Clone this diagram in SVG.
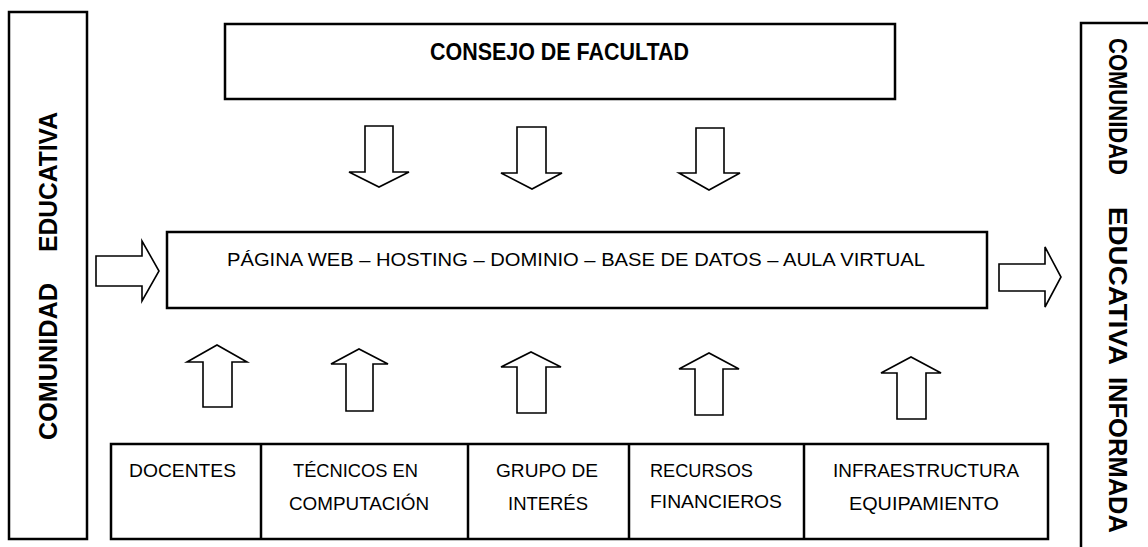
<svg xmlns="http://www.w3.org/2000/svg" width="1148" height="547" viewBox="0 0 1148 547">
<style>
.box{fill:#fff;stroke:#000;stroke-width:2.5}
.div{stroke:#000;stroke-width:2.5}
.arr{fill:#fff;stroke:#000;stroke-width:1.6;stroke-linejoin:miter}
.t{font-family:"Liberation Sans",Arial,sans-serif;font-size:19px;fill:#000}
.b{font-family:"Liberation Sans",Arial,sans-serif;font-weight:bold;fill:#000}
</style>
<rect width="1148" height="547" fill="#fff"/>
<g id="comunidad-educativa">
<rect class="box" x="9" y="12" width="78" height="527"/>
<text class="b" font-size="25" transform="translate(57,0) rotate(-90)"><tspan x="-440" textLength="157" lengthAdjust="spacingAndGlyphs">COMUNIDAD</tspan><tspan x="-252" textLength="140" lengthAdjust="spacingAndGlyphs">EDUCATIVA</tspan></text>
</g>
<g id="comunidad-informada">
<path class="box" d="M1081,547 V23 H1150" fill="none"/>
<text class="b" font-size="25" transform="translate(1109,0) rotate(90)"><tspan x="38" textLength="137" lengthAdjust="spacingAndGlyphs">COMUNIDAD</tspan><tspan x="207" textLength="158" lengthAdjust="spacingAndGlyphs">EDUCATIVA</tspan><tspan x="377" textLength="156" lengthAdjust="spacingAndGlyphs">INFORMADA</tspan></text>
</g>
<g id="consejo">
<rect class="box" x="225" y="24" width="670" height="75"/>
<text class="b" font-size="23" x="430" y="60" textLength="259" lengthAdjust="spacingAndGlyphs">CONSEJO DE FACULTAD</text>
</g>
<g id="plataforma">
<rect class="box" x="167" y="232" width="820" height="76"/>
<text class="t" x="227" y="266" textLength="698" lengthAdjust="spacingAndGlyphs">PÁGINA WEB – HOSTING – DOMINIO – BASE DE DATOS – AULA VIRTUAL</text>
</g>
<g id="recursos-tabla">
<rect class="box" x="111" y="444" width="937" height="95"/>
<line class="div" x1="261" y1="444" x2="261" y2="539"/>
<line class="div" x1="468" y1="444" x2="468" y2="539"/>
<line class="div" x1="629" y1="444" x2="629" y2="539"/>
<line class="div" x1="804" y1="444" x2="804" y2="539"/>
</g>
<g id="docentes"><text class="t" x="129" y="477" textLength="107" lengthAdjust="spacingAndGlyphs">DOCENTES</text></g>
<g id="tecnicos"><text class="t" y="477"><tspan x="293" textLength="125" lengthAdjust="spacingAndGlyphs">TÉCNICOS EN</tspan><tspan x="289" y="510" textLength="140" lengthAdjust="spacingAndGlyphs">COMPUTACIÓN</tspan></text></g>
<g id="grupo"><text class="t" y="477"><tspan x="496" textLength="102" lengthAdjust="spacingAndGlyphs">GRUPO DE</tspan><tspan x="508" y="510" textLength="80" lengthAdjust="spacingAndGlyphs">INTERÉS</tspan></text></g>
<g id="financieros"><text class="t" y="477"><tspan x="650" textLength="103" lengthAdjust="spacingAndGlyphs">RECURSOS</tspan><tspan x="650" y="508" textLength="132" lengthAdjust="spacingAndGlyphs">FINANCIEROS</tspan></text></g>
<g id="infraestructura"><text class="t" y="477"><tspan x="833" textLength="186" lengthAdjust="spacingAndGlyphs">INFRAESTRUCTURA</tspan><tspan x="849" y="510" textLength="150" lengthAdjust="spacingAndGlyphs">EQUIPAMIENTO</tspan></text></g>
<g id="connectors">
<polygon class="arr" points="365,126 393,126 393,172 409,172 379,187 349,172 365,172"/>
<polygon class="arr" points="517,127 546,127 546,173 562,173 532,189 501,173 517,173"/>
<polygon class="arr" points="696,128 724,128 724,173 740,173 709,190 679,173 696,173"/>
<polygon class="arr" points="203,407 232,407 232,362 247,362 217,345 187,362 203,362"/>
<polygon class="arr" points="346,411 373,411 373,364 388,364 359,349 331,364 346,364"/>
<polygon class="arr" points="517,413 546,413 546,367 561,367 531,352 501,367 517,367"/>
<polygon class="arr" points="695,415 723,415 723,369 739,369 709,353 679,369 695,369"/>
<polygon class="arr" points="897,419 926,419 926,373 941,373 911,357 881,373 897,373"/>
<polygon class="arr" points="96,256 142,256 142,241 159,271 142,301 142,286 96,286"/>
<polygon class="arr" points="999,264 1045,264 1045,247 1061,277 1045,307 1045,291 999,291"/>
</g>
</svg>
